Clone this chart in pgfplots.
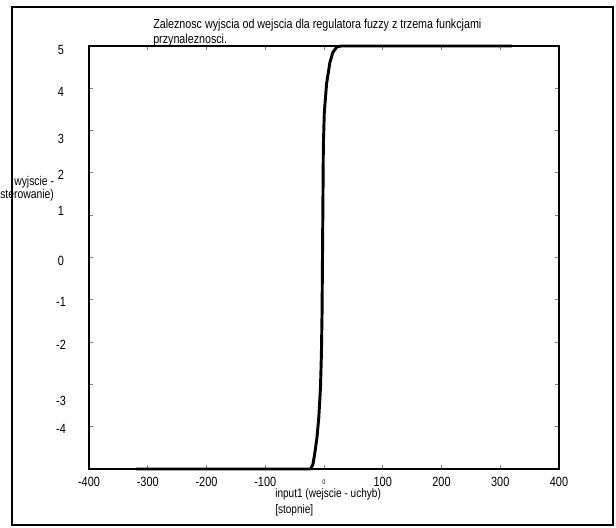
\documentclass[border=0pt]{standalone}
\usepackage{fontspec}
\setmainfont{Liberation Sans}
\newfontfamily\narrowfont[FakeStretch=0.82]{Liberation Sans}
\usepackage{pgfplots}
\pgfplotsset{compat=1.18}
\newcommand{\lbl}{\narrowfont\fontsize{9.5}{11.25}\selectfont}
\begin{document}
\begin{tikzpicture}[x=0.75pt,y=0.75pt]
\useasboundingbox (0,0) rectangle (616,527);
% scanned page frame
\draw[line width=0.9pt] (12,2) rectangle (613,520);
\begin{axis}[at={(66.75pt,43.5pt)}, anchor=south west,
  scale only axis, width=352.5pt, height=317.25pt,
  xmin=-400, xmax=400, ymin=-5, ymax=5, clip=false,
  axis line style={line width=0.9pt},
  tick align=inside, major tick length=3pt,
  tick style={line width=0.6pt},
  /pgf/number format/assume math mode=true,
  tick label style={font=\narrowfont\fontsize{10}{10}\selectfont},
  xtick={-400,-300,...,400},
  xticklabels={-400,-300,-200,-100,{\tiny 0},100,200,300,400},
  xticklabel style={anchor=center, yshift=-9.75pt},
  ytick={-5,...,5}, yticklabels={,,,,,,,,,,},
  extra y ticks={4.9,3.91,2.80,1.95,1.10,-0.08,-1.05,-2.07,-3.39,-4.05},
  extra y tick labels={5,4,3,2,1,0,-1,-2,-3,-4},
  extra y tick style={grid=none, major tick length=0pt,
    yticklabel style={anchor=center, xshift=-21pt}},
]
\addplot[black, line width=2.2pt, line join=round] coordinates {
 (-320,-5) (-23,-5) (-19,-4.9) (-16,-4.66) (-12,-4.26) (-8.8,-3.77)
 (-6,-3.08) (-4.4,-2.29) (-3.3,-1.3) (-2.2,0.66) (-1.1,2.64) (0.5,3.42)
 (4.4,4.11) (9.9,4.6) (15,4.85) (22,4.98) (29,5) (320,5)};
\end{axis}
\node[anchor=west, inner sep=0, font=\narrowfont\fontsize{9.8}{11.25}\selectfont] at (153,502) {Zaleznosc wyjscia od wejscia dla regulatora fuzzy z trzema funkcjami};
\node[anchor=west, inner sep=0, font=\narrowfont\fontsize{9.8}{11.25}\selectfont] at (153,487) {przynaleznosci.};
\node[anchor=west, inner sep=0, font=\lbl] at (14,345) {wyjscie -};
\node[anchor=west, inner sep=0, font=\lbl] at (0,332) {sterowanie)};
\node[anchor=west, inner sep=0, font=\narrowfont\fontsize{9.2}{11}\selectfont] at (275,33) {input1 (wejscie - uchyb)};
\node[anchor=west, inner sep=0, font=\narrowfont\fontsize{9.2}{11}\selectfont] at (275,17) {[stopnie]};
\end{tikzpicture}
\end{document}
